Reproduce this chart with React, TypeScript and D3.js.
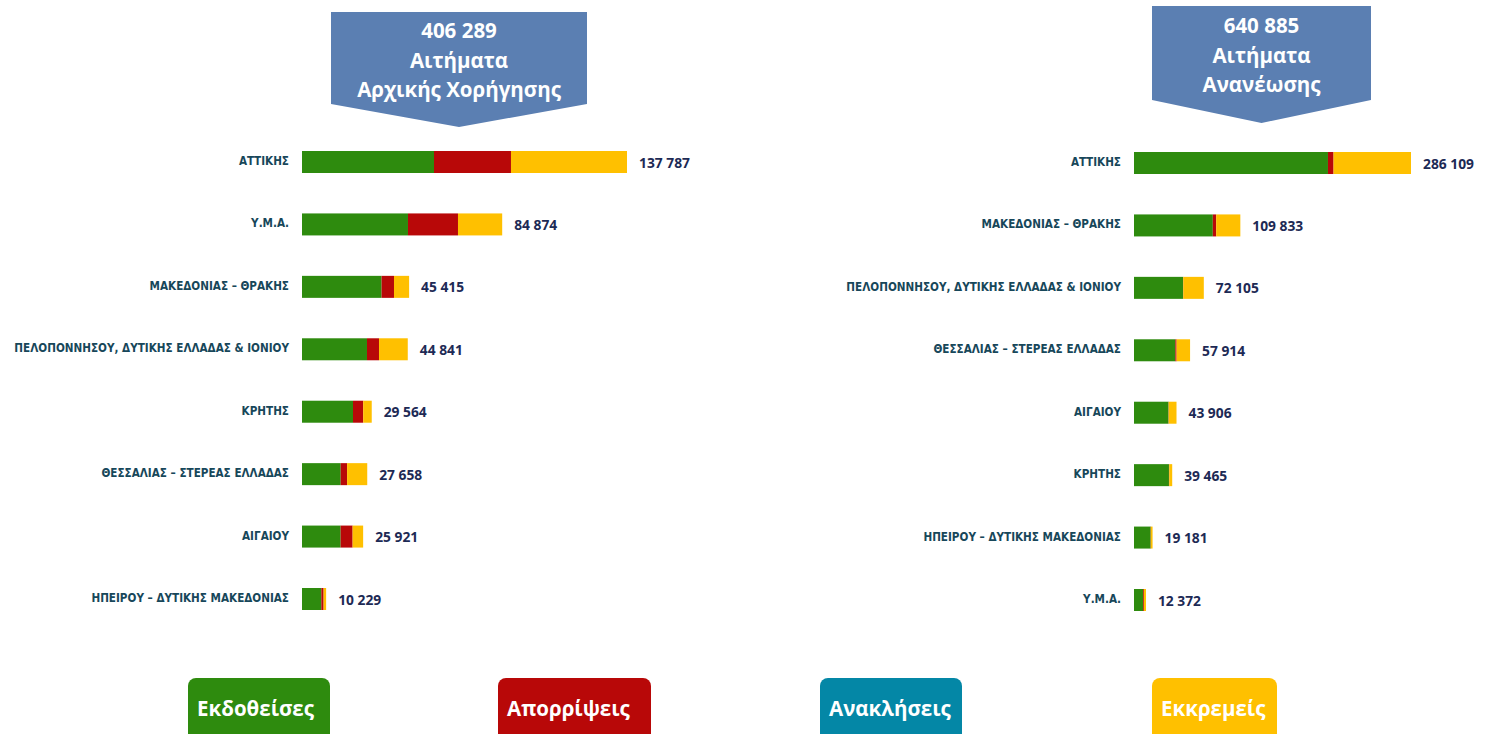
import React from "react";
import * as d3 from "d3";

// ---------- Data ----------
const seriesKeys = ["issued", "rejected", "revoked", "pending"];
const legendLabels = ["Εκδοθείσες", "Απορρίψεις", "Ανακλήσεις", "Εκκρεμείς"];

const leftTitle = ["406 289", "Αιτήματα", "Αρχικής Χορήγησης"];
const leftCategories = [
  "ΑΤΤΙΚΗΣ",
  "Υ.Μ.Α.",
  "ΜΑΚΕΔΟΝΙΑΣ – ΘΡΑΚΗΣ",
  "ΠΕΛΟΠΟΝΝΗΣΟΥ, ΔΥΤΙΚΗΣ ΕΛΛΑΔΑΣ & ΙΟΝΙΟΥ",
  "ΚΡΗΤΗΣ",
  "ΘΕΣΣΑΛΙΑΣ – ΣΤΕΡΕΑΣ ΕΛΛΑΔΑΣ",
  "ΑΙΓΑΙΟΥ",
  "ΗΠΕΙΡΟΥ – ΔΥΤΙΚΗΣ ΜΑΚΕΔΟΝΙΑΣ",
];
const leftTotals = [137787, 84874, 45415, 44841, 29564, 27658, 25921, 10229];
const leftIssued = [55960, 44930, 33740, 27550, 21620, 16400, 16380, 8190];
const leftRejected = [32640, 21200, 5260, 5090, 4330, 2720, 5080, 980];
const leftRevoked = [0, 0, 0, 0, 0, 0, 0, 0];
const leftPending = [49187, 18744, 6415, 12201, 3614, 8538, 4461, 1059];

const rightTitle = ["640 885", "Αιτήματα", "Ανανέωσης"];
const rightCategories = [
  "ΑΤΤΙΚΗΣ",
  "ΜΑΚΕΔΟΝΙΑΣ – ΘΡΑΚΗΣ",
  "ΠΕΛΟΠΟΝΝΗΣΟΥ, ΔΥΤΙΚΗΣ ΕΛΛΑΔΑΣ & ΙΟΝΙΟΥ",
  "ΘΕΣΣΑΛΙΑΣ – ΣΤΕΡΕΑΣ ΕΛΛΑΔΑΣ",
  "ΑΙΓΑΙΟΥ",
  "ΚΡΗΤΗΣ",
  "ΗΠΕΙΡΟΥ – ΔΥΤΙΚΗΣ ΜΑΚΕΔΟΝΙΑΣ",
  "Υ.Μ.Α.",
];
const rightTotals = [286109, 109833, 72105, 57914, 43906, 39465, 19181, 12372];
const rightIssued = [200340, 81400, 50600, 42700, 35650, 36100, 17200, 9300];
const rightRejected = [5770, 3500, 300, 1300, 200, 300, 200, 900];
const rightRevoked = [0, 0, 0, 0, 0, 0, 0, 0];
const rightPending = [79999, 24933, 21205, 13914, 8056, 3065, 1781, 2172];

// ---------- Styles ----------
const COLORS = ["#2e8b0e", "#b80808", "#0487a6", "#ffc000"];
const BOX_COLOR = "#5b7fb2";
const CAT_COLOR = "#17475a";
const VAL_COLOR = "#1d2a55";
const TITLE_FONT = "'Open Sans', 'Noto Sans', sans-serif";
const CAT_FONT = "'Liberation Sans Narrow', 'DejaVu Sans Condensed', 'Roboto', sans-serif";

const fmt = (v: number) => d3.format(",")(v).replace(/,/g, " ");

function buildRows(cats: string[], a: number[], b: number[], c: number[], d: number[]) {
  return cats.map((cat, i) => ({
    cat,
    issued: a[i],
    rejected: b[i],
    revoked: c[i],
    pending: d[i],
  }));
}

type PanelProps = {
  cats: string[];
  totals: number[];
  rows: any[];
  x0: number;
  x1: number;
  yTop: number;
  yBottom: number;
  labelRight: number;
  title: string[];
  box: { left: number; right: number; top: number; sideBottom: number; tip: number };
  titleYs: number[];
};

function Panel(p: PanelProps) {
  const maxTotal = d3.max(p.totals) as number;
  const x = d3.scaleLinear().domain([0, maxTotal]).range([p.x0, p.x1]);
  const y = d3.scalePoint<string>().domain(p.cats).range([p.yTop, p.yBottom]);
  const barH = 22;
  const stack = d3.stack<any>().keys(seriesKeys)(p.rows);
  const cx = (p.box.left + p.box.right) / 2;
  const boxPath = `M${p.box.left},${p.box.top}H${p.box.right}V${p.box.sideBottom}L${cx},${p.box.tip}L${p.box.left},${p.box.sideBottom}Z`;
  return (
    <g>
      <path d={boxPath} fill={BOX_COLOR} />
      {p.title.map((t, i) => (
        <text
          key={i}
          x={cx}
          y={p.titleYs[i]}
          textAnchor="middle"
          dominantBaseline="central"
          fill="#fff"
          fontFamily={TITLE_FONT}
          fontWeight={700}
          fontSize={20.5}
        >
          {t}
        </text>
      ))}
      {stack.map((layer, li) => (
        <g key={li} fill={COLORS[li]}>
          {layer.map((seg, i) => {
            const w = x(seg[1]) - x(seg[0]);
            if (w <= 0) return null;
            return (
              <rect
                key={i}
                x={x(seg[0])}
                y={(y(p.cats[i]) as number) - barH / 2}
                width={w}
                height={barH}
              />
            );
          })}
        </g>
      ))}
      {p.cats.map((c, i) => (
        <text
          key={c}
          x={p.labelRight}
          y={(y(c) as number) - 1}
          textAnchor="end"
          dominantBaseline="central"
          fill={CAT_COLOR}
          fontFamily={CAT_FONT}
          fontWeight={700}
          fontSize={11.6}
        >
          {c}
        </text>
      ))}
      {p.cats.map((c, i) => (
        <text
          key={c + "v"}
          x={x(p.totals[i]) + 12}
          y={y(c) as number}
          dominantBaseline="central"
          fill={VAL_COLOR}
          fontFamily={TITLE_FONT}
          fontWeight={700}
          fontSize={13.8}
        >
          {fmt(p.totals[i])}
        </text>
      ))}
    </g>
  );
}

export default function App() {
  const leftRows = buildRows(leftCategories, leftIssued, leftRejected, leftRevoked, leftPending);
  const rightRows = buildRows(rightCategories, rightIssued, rightRejected, rightRevoked, rightPending);
  const legendBoxes = [
    { x: 188, w: 142 },
    { x: 498, w: 153 },
    { x: 820, w: 142 },
    { x: 1152, w: 125 },
  ];
  return (
    <svg
      width={1500}
      height={734}
      style={{ position: "absolute", left: 0, top: 0, background: "#fff" }}
    >
      <Panel
        cats={leftCategories}
        totals={leftTotals}
        rows={leftRows}
        x0={302}
        x1={627}
        yTop={162}
        yBottom={599}
        labelRight={289}
        title={leftTitle}
        box={{ left: 331, right: 587, top: 12, sideBottom: 104, tip: 127 }}
        titleYs={[30, 60, 89]}
      />
      <Panel
        cats={rightCategories}
        totals={rightTotals}
        rows={rightRows}
        x0={1134}
        x1={1411}
        yTop={163}
        yBottom={600}
        labelRight={1121}
        title={rightTitle}
        box={{ left: 1152, right: 1371, top: 6, sideBottom: 100, tip: 123 }}
        titleYs={[25, 55, 84]}
      />
      {legendLabels.map((l, i) => (
        <g key={l}>
          <rect
            x={legendBoxes[i].x}
            y={678}
            width={legendBoxes[i].w}
            height={70}
            rx={8}
            fill={COLORS[i]}
          />
          <text
            x={legendBoxes[i].x + 9}
            y={708}
            dominantBaseline="central"
            fill="#fff"
            fontFamily={TITLE_FONT}
            fontWeight={700}
            fontSize={20.5}
          >
            {l}
          </text>
        </g>
      ))}
    </svg>
  );
}
